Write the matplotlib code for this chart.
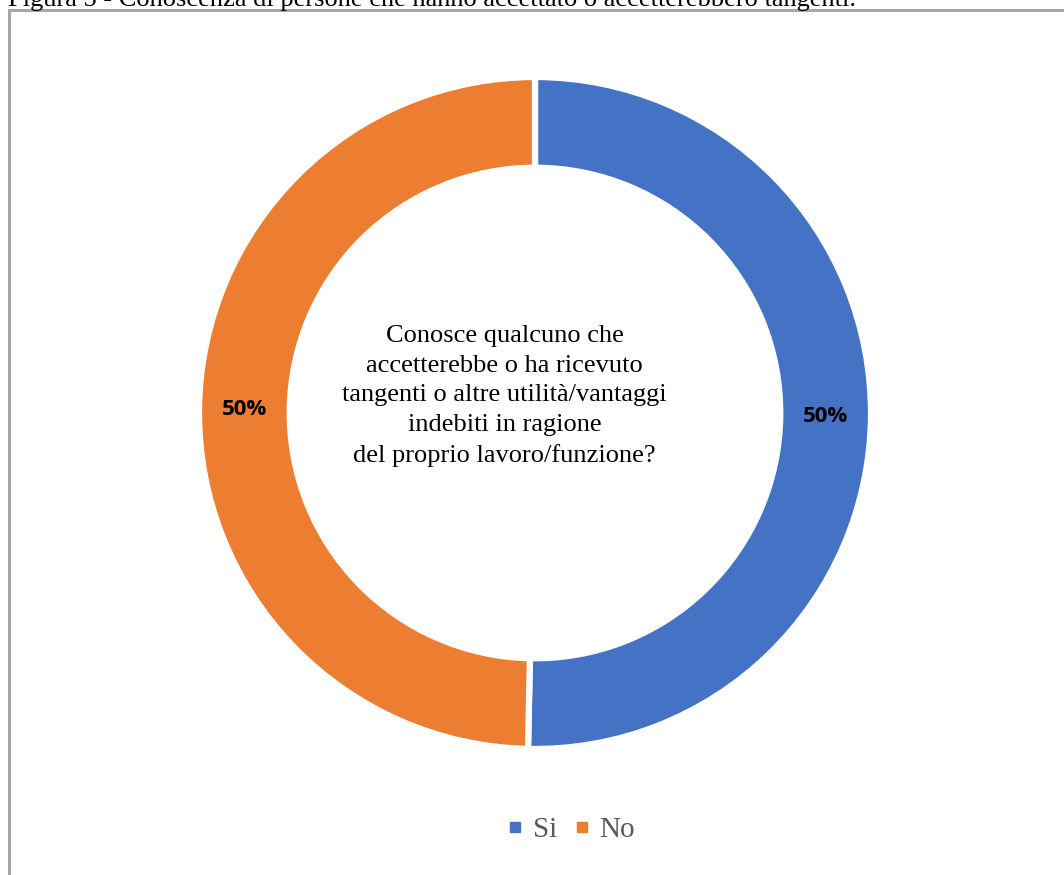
import matplotlib.pyplot as plt
from matplotlib.patches import Rectangle
from matplotlib.lines import Line2D

# survey answers
labels = ['Si', 'No']
counts = [76, 75]
colors = ['#4472C4', '#ED7D31']
question = ('Conosce qualcuno che\n'
            'accetterebbe o ha ricevuto\n'
            'tangenti o altre utilità/vantaggi\n'
            'indebiti in ragione\n'
            'del proprio lavoro/funzione?')
caption = 'Figura 5 - Conoscenza di persone che hanno accettato o accetterebbero tangenti.'

W, H = 1064, 875
fig = plt.figure(figsize=(W / 100, H / 100), dpi=100)
fig.patch.set_facecolor('white')

# caption above the frame, partly cut by the page edge
fig.text(8 / W, 1 - 6 / H, caption, family='Liberation Serif', fontsize=19,
         ha='left', va='baseline', color='black')

# gray chart frame
fig.patches.append(Rectangle((8.5 / W, -0.1), 1.2, 1 - 10.5 / H + 0.1,
                             transform=fig.transFigure, fill=False,
                             edgecolor='#A6A6A6', linewidth=2.2))

cx, cy, r = 535, 413, 336
ax = fig.add_axes([(cx - r) / W, (H - cy - r) / H, 2 * r / W, 2 * r / H])

wedges, texts, autotexts = ax.pie(
    counts, colors=colors, startangle=90, counterclock=False, radius=1,
    autopct='%1.0f%%', pctdistance=0.865,
    wedgeprops=dict(width=0.27, edgecolor='white', linewidth=4.5),
    textprops=dict(fontsize=16, fontweight='bold', family='Open Sans',
                   color='black'))
# pie() resets the limits, so put them back to fill the axes
ax.set_xlim(-1, 1)
ax.set_ylim(-1, 1)
ax.axis('off')

ax.text(-0.09, 0.05, question, family='Liberation Serif', fontsize=19,
        ha='center', va='center', linespacing=1.45)

handles = [Line2D([], [], marker='s', linestyle='none', markersize=6.5,
                  color=c) for c in colors]
fig.legend(handles, labels, loc='center', bbox_to_anchor=(570 / W, 1 - 830 / H),
           ncol=2, frameon=False, handlelength=0.7, handletextpad=0.25,
           columnspacing=0.5, prop=dict(family='Liberation Serif', size=21),
           labelcolor='#595959')

fig.savefig('out.png', dpi=100)
